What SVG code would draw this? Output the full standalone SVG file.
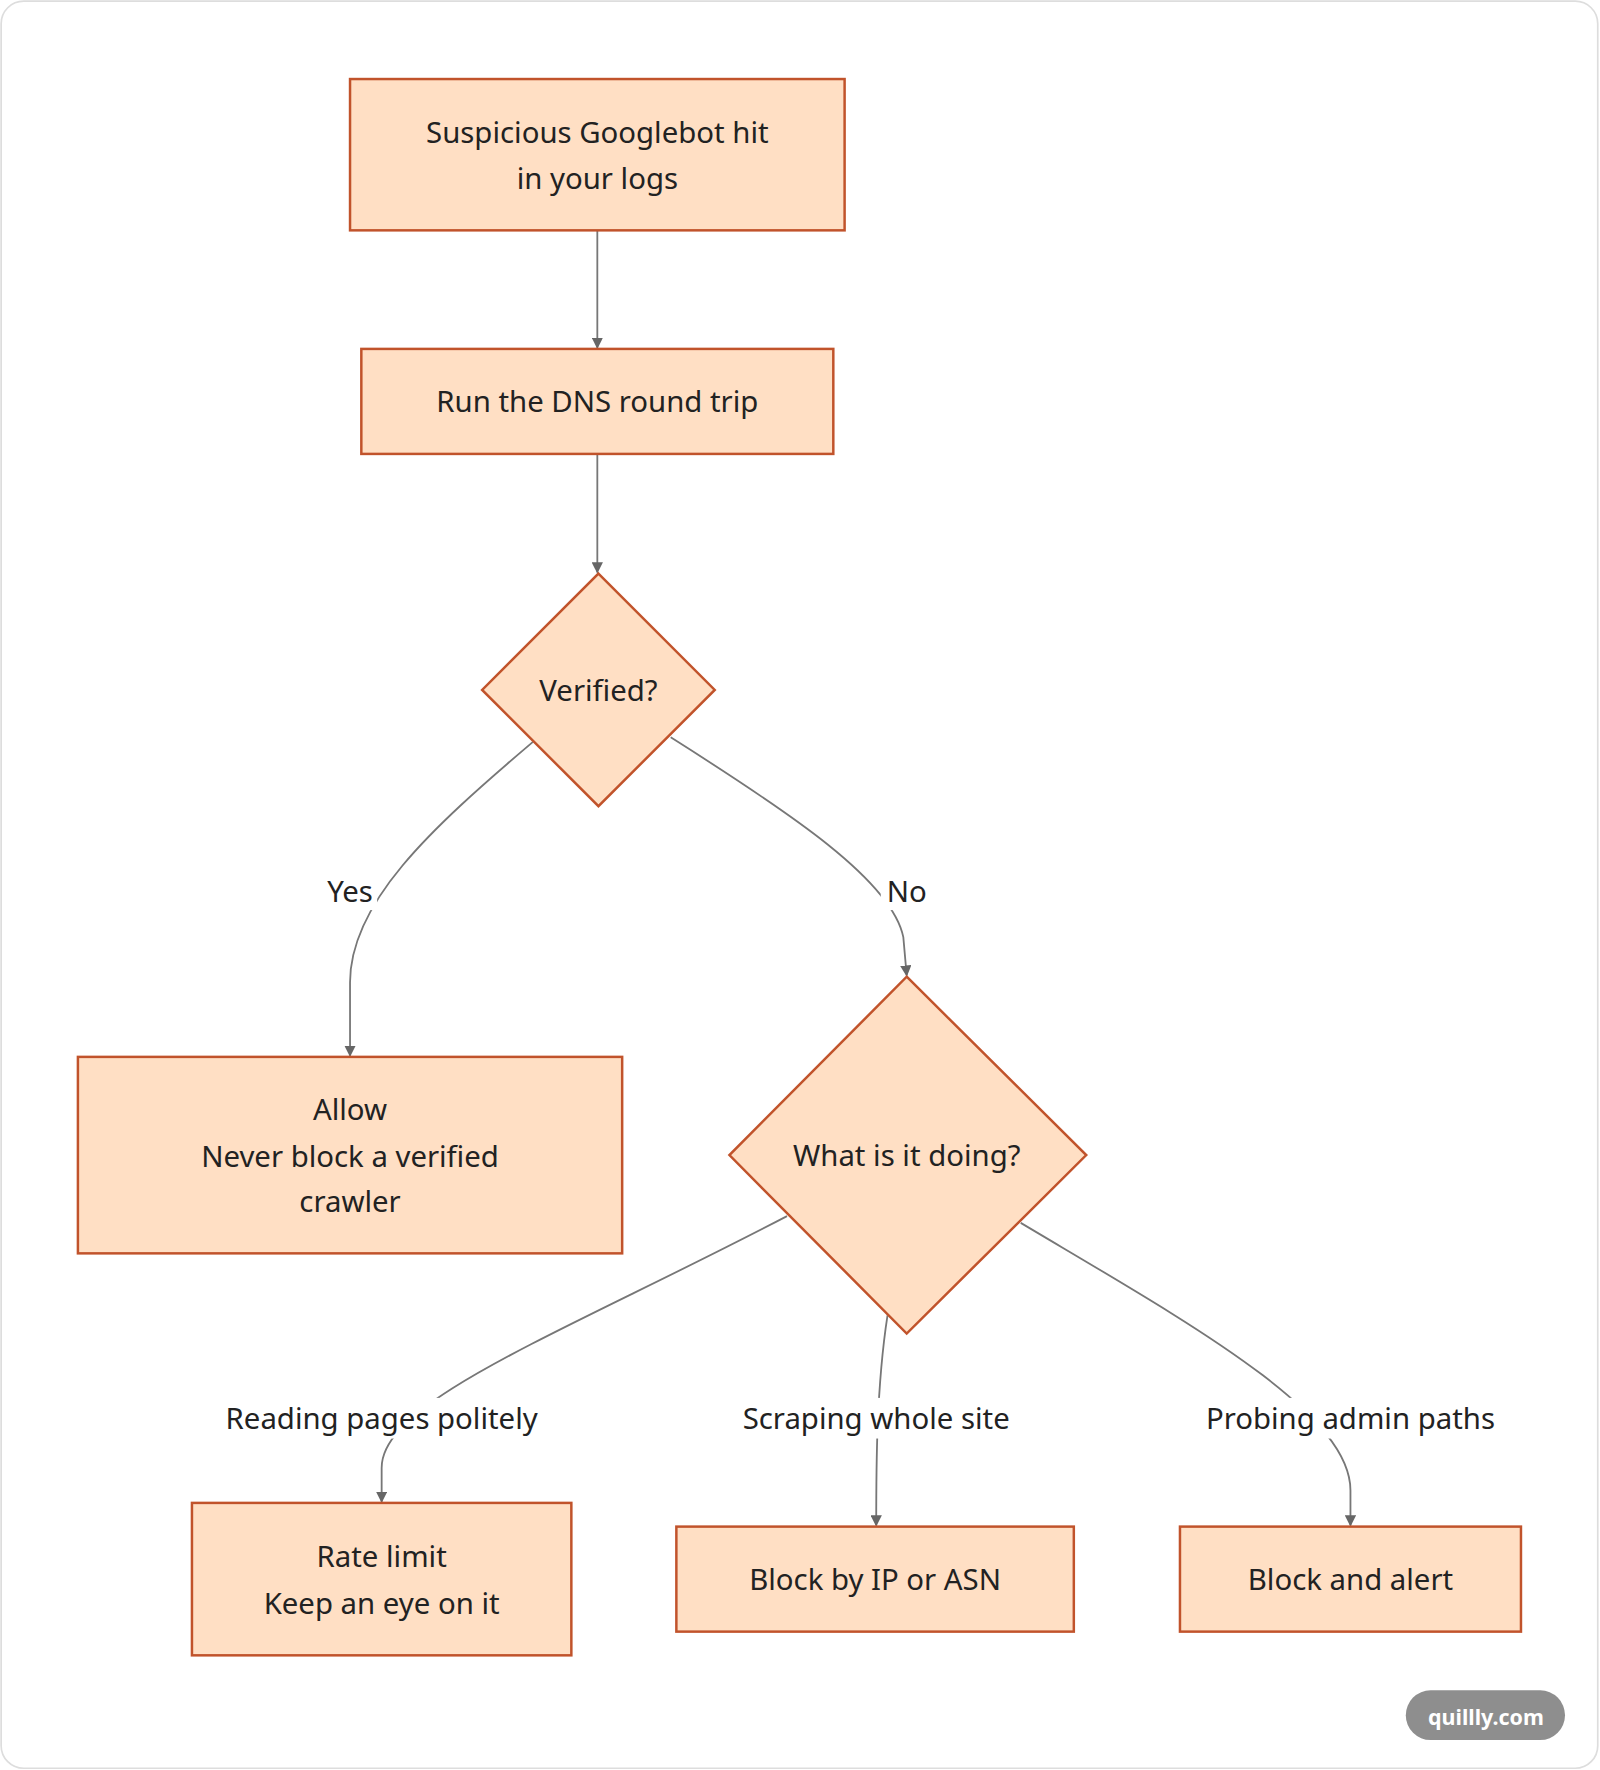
<svg xmlns="http://www.w3.org/2000/svg" width="1600" height="1770" viewBox="0 0 1600 1770">
<style>
.n{fill:#FFDFC4;stroke:#C1532B;stroke-width:2.2}
.t{font-family:"Noto Sans","Open Sans",sans-serif;font-size:26px;fill:#222;text-anchor:middle;dominant-baseline:central}
.e{fill:none;stroke:#777;stroke-width:1.6}
.lb{fill:#fff}
</style>
<defs><marker id="a" viewBox="0 0 10 10" refX="9" refY="5" markerWidth="10" markerHeight="10" markerUnits="userSpaceOnUse" orient="auto"><path d="M0,0L10,5L0,10z" fill="#666"/></marker></defs>
<rect x="0" y="0" width="1600" height="1770" fill="#fff"/>
<g transform="scale(1.12915)">
<rect x="1" y="1" width="1414" height="1565" rx="20" fill="#fff" stroke="#ddd" stroke-width="1.5"/>
<g id="edges">
<path class="e" d="M529,204V308" marker-end="url(#a)"/>
<path class="e" d="M529,402V507" marker-end="url(#a)"/>
<path class="e" d="M472,657C380,735 310,800 310,870V935" marker-end="url(#a)"/>
<path class="e" d="M594,653C700,720 790,780 800,830L803,864" marker-end="url(#a)"/>
<path class="e" d="M697,1077C500,1180 338,1240 338,1300V1330" marker-end="url(#a)"/>
<path class="e" d="M786,1165C776,1230 776,1300 776,1351" marker-end="url(#a)"/>
<path class="e" d="M904,1083C1050,1170 1196,1250 1196,1320V1351" marker-end="url(#a)"/>
<rect class="lb" x="286" y="772" width="48" height="34"/>
<rect class="lb" x="780" y="772" width="46" height="34"/>
<rect class="lb" x="186" y="1238" width="304" height="36"/>
<rect class="lb" x="645" y="1238" width="262" height="36"/>
<rect class="lb" x="1056" y="1238" width="280" height="36"/>
<text class="t" x="310" y="789">Yes</text>
<text class="t" x="803" y="789">No</text>
<text class="t" x="338" y="1256">Reading pages politely</text>
<text class="t" x="776" y="1256">Scraping whole site</text>
<text class="t" x="1196" y="1256">Probing admin paths</text>
</g>
<g id="start"><rect class="n" x="310" y="70" width="438" height="134"/><text class="t" x="529" y="117">Suspicious Googlebot hit</text><text class="t" x="529" y="158">in your logs</text></g>
<g id="dns"><rect class="n" x="320" y="309" width="418" height="93"/><text class="t" x="529" y="355">Run the DNS round trip</text></g>
<g id="verified"><path class="n" d="M530,508L633,611L530,714L427,611z"/><text class="t" x="530" y="611">Verified?</text></g>
<g id="allow"><rect class="n" x="69" y="936" width="482" height="174"/><text class="t" x="310" y="982">Allow</text><text class="t" x="310" y="1024">Never block a verified</text><text class="t" x="310" y="1064">crawler</text></g>
<g id="doing"><path class="n" d="M803,865L962,1023L803,1181L646,1023z"/><text class="t" x="803" y="1023">What is it doing?</text></g>
<g id="rate"><rect class="n" x="170" y="1331" width="336" height="135"/><text class="t" x="338" y="1378">Rate limit</text><text class="t" x="338" y="1420">Keep an eye on it</text></g>
<g id="blockip"><rect class="n" x="599" y="1352" width="352" height="93"/><text class="t" x="775" y="1398">Block by IP or ASN</text></g>
<g id="alert"><rect class="n" x="1045" y="1352" width="302" height="93"/><text class="t" x="1196" y="1398">Block and alert</text></g>
<g id="wm"><rect x="1245" y="1497" width="141" height="44" rx="22" fill="#8e8e8e"/><text class="t" x="1316" y="1520" style="font-size:19px;font-weight:bold;fill:#fff">quillly.com</text></g>
</g>
</svg>
